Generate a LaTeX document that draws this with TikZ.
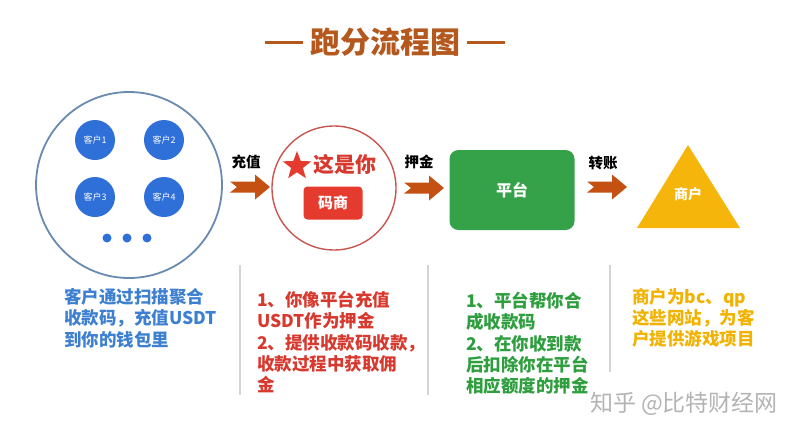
\documentclass[tikz,border=0pt]{standalone}
\usepackage{fontspec}
\setmainfont{Noto Sans CJK SC}
\usetikzlibrary{calc,shapes.geometric}
\definecolor{titlec}{HTML}{B4581E}
\definecolor{arrowc}{HTML}{C45011}
\definecolor{ringblue}{HTML}{6A8BB0}
\definecolor{custblue}{HTML}{2E6FD8}
\definecolor{txtblue}{HTML}{3D7FD0}
\definecolor{ringred}{HTML}{C8554F}
\definecolor{txtred}{HTML}{D8392E}
\definecolor{boxred}{HTML}{E53A2E}
\definecolor{boxgreen}{HTML}{35A24A}
\definecolor{txtgreen}{HTML}{2E9E3E}
\definecolor{yel}{HTML}{F5B50A}
\definecolor{txtyel}{HTML}{F2B200}
\definecolor{sepc}{HTML}{D4D4D4}
\definecolor{wmc}{HTML}{B4B4B4}
\begin{document}
\begin{tikzpicture}[x=1pt,y=-1pt,
  cust/.style={circle,fill=custblue,minimum size=40pt,inner sep=0pt,text=white,font=\fontsize{9}{10}\selectfont},
  dotc/.style={circle,fill=custblue,minimum size=9pt,inner sep=0pt},
  lbl/.style={font=\bfseries\fontsize{14.5}{16}\selectfont,text=black},
  coltext/.style={anchor=north west,align=left,inner sep=0pt,font=\bfseries\fontsize{17.5}{21.3}\selectfont},
  sep/.style={draw=sepc,line width=1.2pt},
  fatarrow/.style={fill=arrowc}
]
\useasboundingbox (0,0) rectangle (800,437);
\fill[white] (0,0) rectangle (800,437);

% title
\node[text=titlec,font=\bfseries\fontsize{30}{32}\selectfont,inner sep=0pt] (title) at (385,42) {跑分流程图};
\coordinate (tl1) at (265,42); \coordinate (tl2) at (303,42);
\coordinate (tr1) at (467,42); \coordinate (tr2) at (505,42);
\draw[titlec,line width=3pt] (tl1) -- (tl2);
\draw[titlec,line width=3pt] (tr1) -- (tr2);

% customers circle
\node[circle,draw=ringblue,line width=1.8pt,minimum size=186pt,inner sep=0pt] (ring) at (129,185) {};
\node[cust] (c1) at (95,140) {客户1};
\node[cust] (c2) at (164,140) {客户2};
\node[cust] (c3) at (95,197) {客户3};
\node[cust] (c4) at (164,197) {客户4};
\node[dotc] (d1) at (107,238) {};
\node[dotc] (d2) at (127,238) {};
\node[dotc] (d3) at (147,238) {};

% arrows
\coordinate (a1) at (250,187);
\coordinate (a2) at (424,188);
\coordinate (a3) at (607,187);
\foreach \a in {a1,a2,a3}{
  \fill[fatarrow,shift={(\a)}] (-20,-5.5) -- (5,-5.5) -- (5,-12.5) -- (20,0) -- (5,12.5) -- (5,5.5) -- (-20,5.5) -- (-13,0) -- cycle;
}
\node[lbl] (l1) at (246,162) {充值};
\node[lbl] (l2) at (419,162) {押金};
\node[lbl] (l3) at (603,163) {转账};

% red circle
\node[circle,draw=ringred,line width=1.4pt,minimum size=124pt,inner sep=0pt] (redring) at (334,188) {};
\node[text=txtred,font=\bfseries\fontsize{21}{22}\selectfont,inner sep=0pt] (you) at (345,164) {这是你};
\node[star,star points=5,star point ratio=2.4,fill=boxred,minimum size=30pt,inner sep=0pt] (star) at (297,166) {};
\node[fill=boxred,rounded corners=4pt,minimum width=59pt,minimum height=33pt,inner sep=0pt,text=white,font=\bfseries\fontsize{15}{16}\selectfont] (ms) at (333,203) {码商};

% platform
\node[fill=boxgreen,rounded corners=9pt,minimum width=125pt,minimum height=80pt,inner sep=0pt,text=white,font=\bfseries\fontsize{16}{17}\selectfont] (pf) at (512,190) {平台};

% merchant triangle
\coordinate (t1) at (688,145); \coordinate (t2) at (740,228); \coordinate (t3) at (637,228);
\fill[yel] (t1) -- (t2) -- (t3) -- cycle;
\node[text=white,font=\bfseries\fontsize{14}{15}\selectfont,inner sep=0pt] (mer) at (688,194) {商户};

% separators
\coordinate (s1a) at (240,265); \coordinate (s1b) at (240,395);
\coordinate (s2a) at (428,265); \coordinate (s2b) at (428,395);
\coordinate (s3a) at (610,265); \coordinate (s3b) at (610,372);
\draw[sep] (s1a) -- (s1b);
\draw[sep] (s2a) -- (s2b);
\draw[sep] (s3a) -- (s3b);

% texts
\node[coltext,text=txtblue] (t1txt) at (64,288) {客户通过扫描聚合\\收款码，充值USDT\\到你的钱包里};
\node[coltext,text=txtred] (t2txt) at (257,291) {1、你像平台充值\\USDT作为押金\\2、提供收款码收款，\\收款过程中获取佣\\金};
\node[coltext,text=txtgreen] (t3txt) at (466,292) {1、平台帮你合\\成收款码\\2、在你收到款\\后扣除你在平台\\相应额度的押金};
\node[coltext,text=txtyel] (t4txt) at (632,288) {商户为bc、qp\\这些网站，为客\\户提供游戏项目};

% watermark
\node[text=wmc,font=\fontsize{23}{24}\selectfont,inner sep=0pt] (wm) at (684,404) {知乎 @比特财经网};
\end{tikzpicture}
\end{document}
